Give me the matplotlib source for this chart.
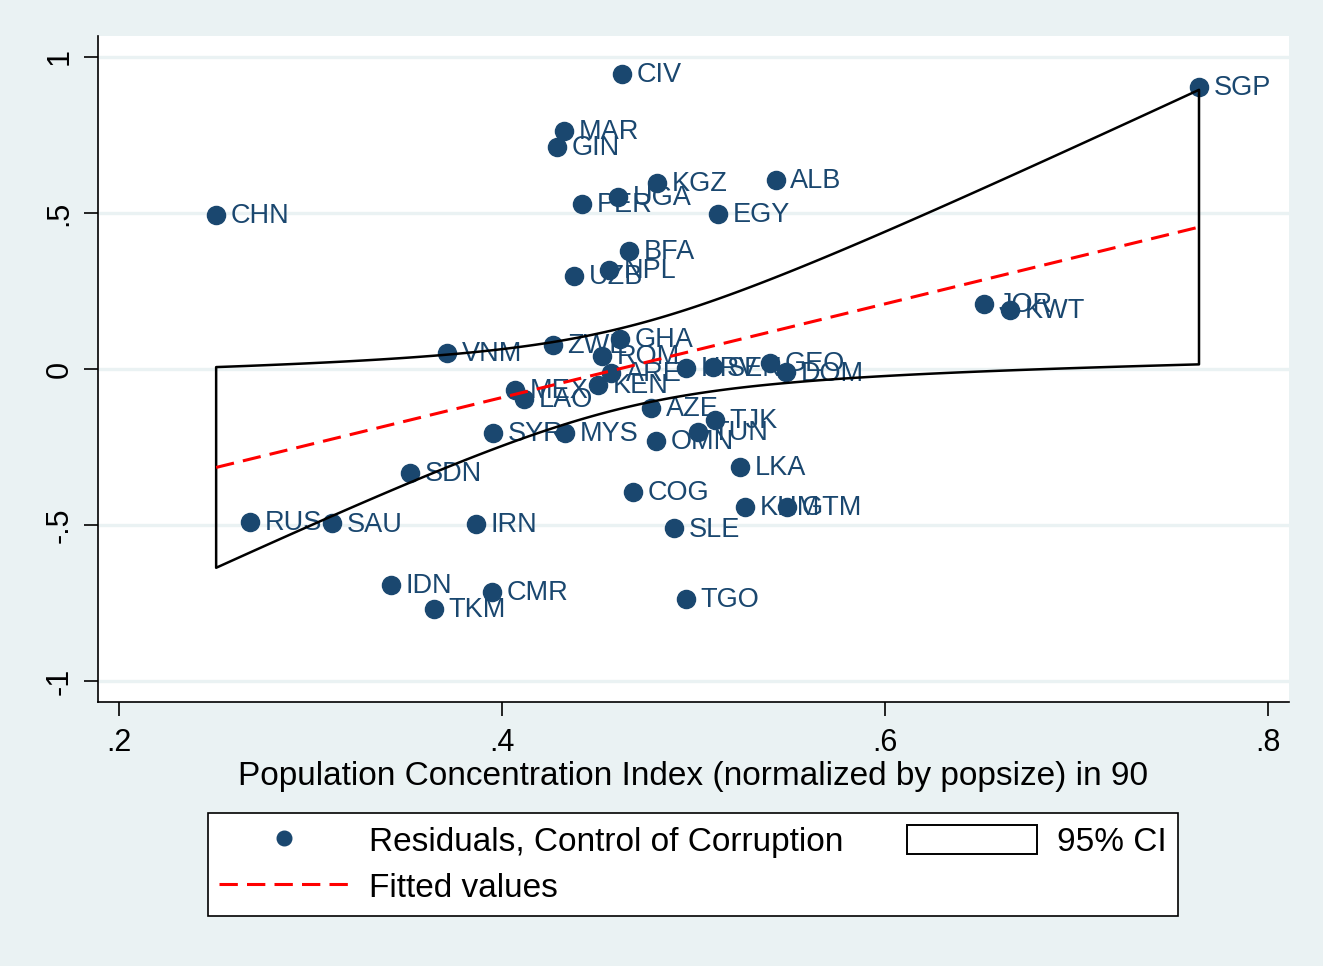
import numpy as np
import matplotlib
matplotlib.use("Agg")
import matplotlib.pyplot as plt
from matplotlib.lines import Line2D
from matplotlib.patches import Patch

plt.rcParams['font.family'] = ['Liberation Sans', 'DejaVu Sans']

# residuals data
countries = ["CIV", "SGP", "MAR", "GIN", "KGZ", "ALB", "CHN", "UGA", "PER", "EGY",
             "BFA", "NPL", "UZB", "JOR", "KWT", "VNM", "ZWE", "GHA", "ROM", "ARE",
             "KEN", "MEX", "LAO", "HRV", "SEN", "GEO", "DOM", "AZE", "TJK", "TUN",
             "SYR", "MYS", "OMN", "LKA", "SDN", "COG", "KHM", "GTM", "RUS", "SAU",
             "IRN", "SLE", "IDN", "CMR", "TKM", "TGO"]
pop_conc = [0.4627, 0.7640, 0.4324, 0.4287, 0.4810, 0.5430, 0.2507, 0.4606, 0.4418, 0.5128,
            0.4663, 0.4559, 0.4376, 0.6517, 0.6653, 0.3713, 0.4266, 0.4616, 0.4522, 0.4569,
            0.4501, 0.4068, 0.4115, 0.4961, 0.5100, 0.5400, 0.5483, 0.4778, 0.5112, 0.5023,
            0.3953, 0.4329, 0.4804, 0.5243, 0.3520, 0.4684, 0.5269, 0.5488, 0.2684, 0.3112,
            0.3864, 0.4898, 0.3420, 0.3948, 0.3645, 0.4961]
resid = [0.946, 0.904, 0.763, 0.712, 0.596, 0.606, 0.494, 0.551, 0.529, 0.497,
         0.378, 0.317, 0.298, 0.208, 0.189, 0.051, 0.077, 0.096, 0.042, -0.013,
         -0.051, -0.067, -0.096, 0.003, 0.006, 0.019, -0.010, -0.125, -0.163, -0.202,
         -0.205, -0.205, -0.231, -0.314, -0.333, -0.394, -0.442, -0.442, -0.490, -0.494,
         -0.497, -0.510, -0.692, -0.715, -0.769, -0.737]

x_ticks = [0.2, 0.4, 0.6, 0.8]
x_tick_labels = [".2", ".4", ".6", ".8"]
y_ticks = [-1, -0.5, 0, 0.5, 1]
y_tick_labels = ["-1", "-.5", "0", ".5", "1"]

navy = "#1a476f"
bg = "#eaf2f3"

x = np.array(pop_conc)
y = np.array(resid)
n = len(x)

# linear fit with 95% CI of the mean prediction
b, a = np.polyfit(x, y, 1)
res = y - (a + b * x)
s = np.sqrt(np.sum(res ** 2) / (n - 2))
sxx = np.sum((x - x.mean()) ** 2)
t_crit = 2.015  # t(0.975, df=44)
xs = np.linspace(x.min(), x.max(), 200)
fit = a + b * xs
half = t_crit * s * np.sqrt(1.0 / n + (xs - x.mean()) ** 2 / sxx)

fig = plt.figure(figsize=(13.23, 9.66), dpi=100, facecolor=bg)
ax = fig.add_axes([98 / 1323, 1 - 702 / 966, (1289 - 98) / 1323, (702 - 36) / 966])
ax.set_facecolor("white")

ax.scatter(x, y, s=170, color=navy, zorder=3, label="Residuals, Control of Corruption")
for cx, cy, lab in zip(x, y, countries):
    ax.annotate(lab, (cx, cy), xytext=(10.5, -1), textcoords="offset points",
                va="center", ha="left", fontsize=19.5, color=navy, zorder=3)

ax.fill_between(xs, fit - half, fit + half, facecolor="none", edgecolor="black",
                linewidth=1.8, zorder=4)
ax.plot(xs, fit, color="red", lw=2.2, dashes=(6, 3), zorder=5, label="Fitted values")

ax.set_xlim(0.189, 0.811)
ax.set_ylim(-1.0673, 1.0673)
ax.set_xticks(x_ticks)
ax.set_xticklabels(x_tick_labels)
ax.set_yticks(y_ticks)
ax.set_yticklabels(y_tick_labels, rotation=90, va="center")
ax.tick_params(axis="both", length=10, width=1.2, labelsize=22, direction="out")
ax.tick_params(axis="x", pad=9)
ax.tick_params(axis="y", pad=7)
ax.grid(axis="y", color=bg, lw=2.4, zorder=0)
ax.set_axisbelow(True)
for sp in ["top", "right"]:
    ax.spines[sp].set_visible(False)
for sp in ["left", "bottom"]:
    ax.spines[sp].set_linewidth(1.2)

ax.set_xlabel("Population Concentration Index (normalized by popsize) in 90",
              fontsize=24, labelpad=2)

handles = [
    Line2D([], [], marker="o", ls="none", color=navy, markersize=10.5),
    Line2D([], [], color="red", lw=2.2, dashes=(6, 3)),
    Patch(facecolor="white", edgecolor="black", linewidth=1.4),
]
labels = ["Residuals, Control of Corruption", "Fitted values", "95% CI"]
leg = fig.legend(handles, labels, ncol=2, loc="center",
                 bbox_to_anchor=((209 + 1177) / 2 / 1323, 1 - (811 + 918) / 2 / 966),
                 fontsize=24, frameon=True, fancybox=False, edgecolor="black",
                 framealpha=1, facecolor="white",
                 handlelength=3.9, handleheight=0.95, handletextpad=0.6,
                 columnspacing=1.9, borderpad=0.35, labelspacing=0.4)
leg.get_frame().set_linewidth(1.2)

fig.savefig("out.png", dpi=100, facecolor=bg)
